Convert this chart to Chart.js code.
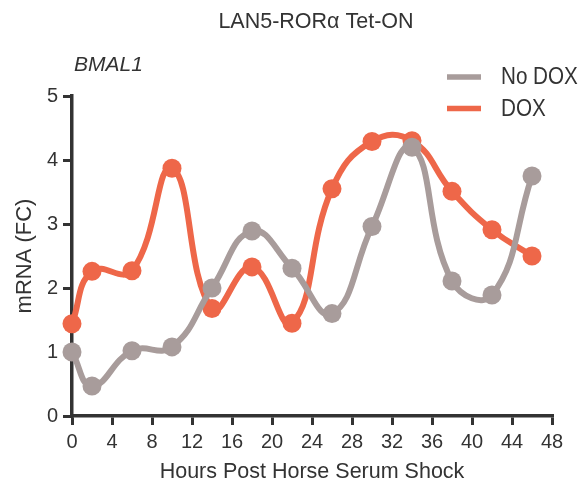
<!DOCTYPE html>
<html>
<head>
<meta charset="utf-8">
<script src="https://cdn.jsdelivr.net/npm/chart.js@4.4.1/dist/chart.umd.min.js"></script>
<style>
html,body{margin:0;padding:0;background:#fff;}
#wrap{width:582px;height:488px;}
</style>
</head>
<body>
<div id="wrap"><canvas id="c" width="582" height="488"></canvas></div>
<script>
const hours = [0, 2, 6, 10, 14, 18, 22, 26, 30, 34, 38, 42, 46];
const noDox = [1.00, 0.47, 1.02, 1.08, 2.00, 2.89, 2.31, 1.60, 2.96, 4.20, 2.11, 1.89, 3.75];
const dox   = [1.44, 2.26, 2.27, 3.87, 1.68, 2.33, 1.45, 3.55, 4.29, 4.30, 3.51, 2.91, 2.50];
const xTicks = [0, 4, 8, 12, 16, 20, 24, 28, 32, 36, 40, 44, 48];
const yTicks = [0, 1, 2, 3, 4, 5];
const chartTitle = 'LAN5-RORα Tet-ON';
const geneLabel = 'BMAL1';
const seriesNames = ['No DOX', 'DOX'];
const seriesColors = ['#a89c9b', '#ee6749'];

const FONT = "'Liberation Sans', Arial, sans-serif";
const TXT = '#333333';

const toPts = arr => hours.map((h, i) => ({x: h, y: arr[i]}));

const overlay = {
  id: 'overlay',
  afterDraw(chart) {
    const ctx = chart.ctx;
    ctx.save();
    ctx.fillStyle = TXT;
    ctx.textBaseline = 'middle';
    ctx.textAlign = 'center';
    ctx.font = "21.5px " + FONT;
    ctx.fillText(chartTitle, 316, 22);
    ctx.textAlign = 'left';
    ctx.font = "italic 21px " + FONT;
    ctx.fillText(geneLabel, 74, 65);
    // legend
    const ys = [77, 108.5];
    chart.data.datasets.forEach((ds, i) => {
      ctx.fillStyle = ds.borderColor;
      ctx.fillRect(447, ys[i] - 2.75, 34, 5.5);
      ctx.save();
      ctx.translate(501, ys[i] + 0.5);
      ctx.scale(0.86, 1);
      ctx.fillStyle = TXT;
      ctx.font = "24px " + FONT;
      ctx.fillText(ds.label, 0, 0);
      ctx.restore();
    });
    ctx.restore();
  }
};

new Chart(document.getElementById('c'), {
  type: 'line',
  data: {
    datasets: [
      {label: seriesNames[0], data: toPts(noDox), borderColor: seriesColors[0], backgroundColor: seriesColors[0],
       pointBackgroundColor: seriesColors[0], borderWidth: 6, pointRadius: 9.5, pointBorderWidth: 0,
       tension: 0.45, clip: false},
      {label: seriesNames[1], data: toPts(dox), borderColor: seriesColors[1], backgroundColor: seriesColors[1],
       pointBackgroundColor: seriesColors[1], borderWidth: 6, pointRadius: 9.5, pointBorderWidth: 0,
       tension: 0.45, clip: false}
    ]
  },
  options: {
    responsive: false,
    animation: false,
    events: [],
    layout: {padding: {top: 96, right: 30, left: 0, bottom: 0}},
    plugins: {legend: {display: false}, title: {display: false}, tooltip: {enabled: false}},
    scales: {
      x: {
        type: 'linear', min: 0, max: 48,
        afterBuildTicks: s => { s.ticks = xTicks.map(v => ({value: v})); },
        afterFit: s => { s.height = 72; },
        grid: {drawOnChartArea: false, drawTicks: true, tickLength: 9, color: TXT, lineWidth: 3},
        border: {color: TXT, width: 3.5},
        ticks: {color: TXT, font: {family: FONT, size: 20}, padding: 5, maxRotation: 0, autoSkip: false},
        title: {display: true, text: 'Hours Post Horse Serum Shock', color: TXT,
                font: {family: FONT, size: 21.5, lineHeight: 1.2}, padding: {top: 3, bottom: 3}}
      },
      y: {
        type: 'linear', min: 0, max: 5,
        afterBuildTicks: s => { s.ticks = yTicks.map(v => ({value: v})); },
        afterFit: s => { s.width = 72; },
        grid: {drawOnChartArea: false, drawTicks: true, tickLength: 9, color: TXT, lineWidth: 3},
        border: {color: TXT, width: 3.5},
        ticks: {color: TXT, font: {family: FONT, size: 20}, padding: 5},
        title: {display: true, text: 'mRNA (FC)', color: TXT,
                font: {family: FONT, size: 22, lineHeight: 1.2}, padding: {top: 12, bottom: 0}}
      }
    }
  },
  plugins: [overlay]
});
</script>
</body>
</html>
